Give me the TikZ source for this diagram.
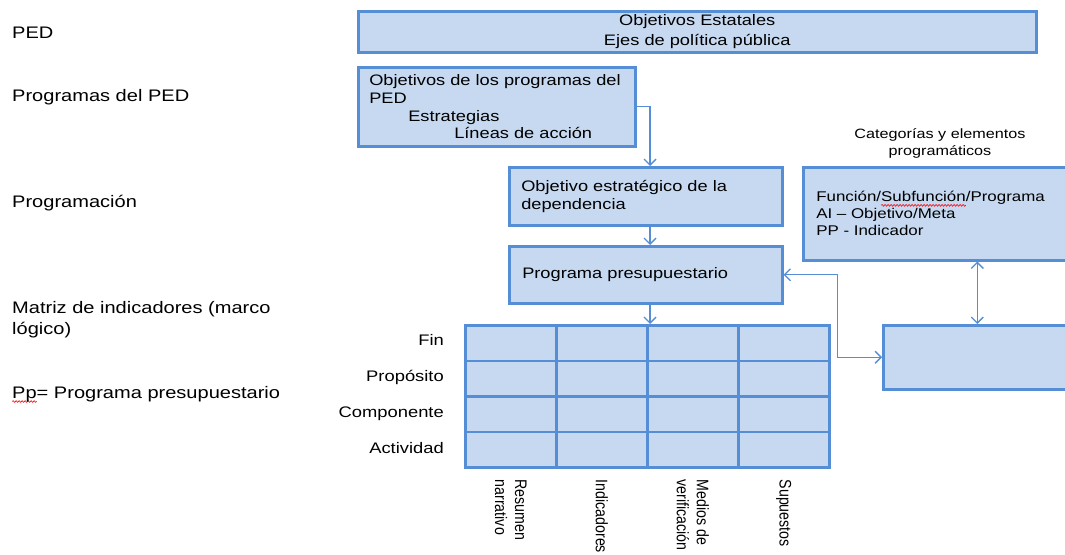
\documentclass[tikz,border=0pt]{standalone}
\usepackage{fontspec}
\setmainfont{Liberation Sans}[FakeStretch=1.2]
\newfontfamily\vertfont{Liberation Sans}[FakeStretch=0.85]
\usepackage{xcolor}
\usetikzlibrary{arrows.meta, positioning, decorations.pathmorphing}
\definecolor{boxfill}{HTML}{C6D9F1}
\definecolor{boxline}{HTML}{558ED5}
\newsavebox\spellbox
\newcommand\spellmark[1]{\sbox\spellbox{#1}\rlap{\tikz[overlay]\draw[red, line width=0.6pt, decorate, decoration={snake, amplitude=0.9pt, segment length=3pt}] (0pt,-3.5pt) -- (\the\wd\spellbox,-3.5pt);}\usebox\spellbox}

\begin{document}
\begin{tikzpicture}[x=1pt, y=-1pt, >={Straight Barb[length=6pt, width=12pt]},
            box/.style={rectangle, draw=boxline, fill=boxfill, line width=2.5pt, anchor=north west, inner xsep=11pt, inner ysep=0pt},
            cell/.style={rectangle, draw=boxline, fill=boxfill, line width=2.5pt, anchor=north west, minimum width=91pt, minimum height=35.5pt},
            boxtxt/.style={font=\fontsize{15.2}{17.7}\selectfont, align=left},
            lbl/.style={anchor=base west, inner sep=0pt, align=left, font=\fontsize{16.7}{21}\selectfont},
            rowlbl/.style={anchor=base east, inner sep=0pt, font=\fontsize{15.3}{18}\selectfont},
            collbl/.style={rotate=-90, anchor=west, inner sep=0pt, align=left, font=\vertfont\fontsize{16.7}{20}\selectfont},
            arr/.style={->, draw=boxline, line width=1.4pt}]

            \clip (0,0) rectangle (1065,554);
            \fill[white] (0,0) rectangle (1065,554);

            % Left labels
            \node[lbl] (lped) at (12,38) {PED};
            \node[lbl] (lprog) at (12,101) {Programas del PED};
            \node[lbl] (lpro) at (12,207) {Programación};
            \node[lbl] (lmat) at (12,334) {Matriz de indicadores (marco\\lógico)};
            \node[lbl] (lpp) at (12,398) {\spellmark{Pp}= Programa presupuestario};

            % Boxes
            \node[box, align=center, font=\fontsize{15.2}{20}\selectfont, minimum width=678pt, minimum height=41pt] (ped) at (357,10) {Objetivos Estatales\\Ejes de política pública};
            \node[box, boxtxt, text width=255pt, minimum height=79pt] (objprog) at (357,66) {Objetivos de los programas del\\PED\\\hspace*{39pt}Estrategias\\\hspace*{85pt}Líneas de acción};
            \node[box, boxtxt, font=\fontsize{15.2}{18}\selectfont, inner xsep=12pt, text width=249pt, minimum height=58pt] (objdep) at (508,166) {Objetivo estratégico de la\\dependencia};
            \node[box, boxtxt, inner xsep=13pt, text width=247pt, minimum height=57pt] (pp) at (508,245) {Programa presupuestario};
            \node[box, inner xsep=13pt, text width=242pt, minimum height=93pt, align=left, font=\fontsize{14.1}{17}\selectfont] (cat) at (802,166) {Función/\spellmark{Subfunción}/Programa\\AI – Objetivo/Meta\\PP - Indicador};
            \node[align=center, font=\fontsize{13.5}{17}\selectfont] (catlbl) at (940,143.5) {Categorías y elementos\\programáticos};
            \node[box, minimum width=188pt, minimum height=64pt] (mir) at (882,324) {};

            % Matrix
            \foreach \r in {1,...,4}
                \foreach \c in {1,...,4}
                    \node[cell] (m\r\c) at ({464+91*(\c-1)},{324+35.5*(\r-1)}) {};
            \foreach \r/\t in {1/Fin, 2/Propósito, 3/Componente, 4/Actividad}
                \node[rowlbl] (row\r) at (444,{345+36*(\r-1)}) {\t};
            \foreach \c/\t in {1/Resumen\\narrativo, 2/Indicadores, 3/Medios de\\verificación, 4/Supuestos}
                \node[collbl] (col\c) at ([yshift=-11pt]m4\c.south) {\t};

            % Edges
            \coordinate (ax) at (650,0);
            \draw[arr] (objprog.east) -| (objdep.north -| ax);
            \draw[arr] (objdep.south -| ax) -- (pp.north -| ax);
            \draw[arr] (pp.south -| ax) -- (m13.north -| ax);
            \draw[arr, <->] (pp.east) -- ++(54,0) |- (mir.west);
            \draw[arr, <->] (mir.north) -- (cat.south -| mir.north);
    \end{tikzpicture}
\end{document}
